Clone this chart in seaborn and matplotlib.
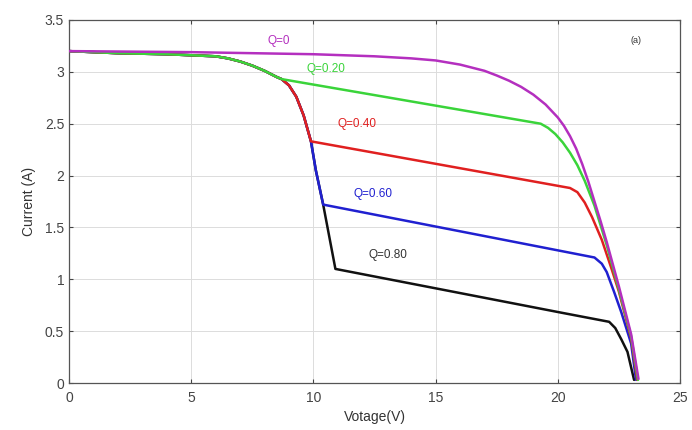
import numpy as np
import pandas as pd
import matplotlib
matplotlib.use("Agg")
import matplotlib.pyplot as plt
import seaborn as sns

# ---- data ----
v_q0 = [0, 5, 10, 12.5, 14, 15, 15.5, 16, 16.5, 17, 17.5, 18, 18.5, 19, 19.5, 20, 20.25, 20.5, 20.75, 21, 21.25, 21.5, 21.75, 22, 22.5, 23, 23.3]
i_q0 = [3.2, 3.19, 3.17, 3.15, 3.13, 3.11, 3.09, 3.07, 3.04, 3.01, 2.965, 2.915, 2.855, 2.78, 2.685, 2.56, 2.48, 2.38, 2.26, 2.11, 1.94, 1.75, 1.56, 1.36, 0.93, 0.47, 0.04]

v_q20 = [0, 2, 4, 5, 6, 6.5, 7, 7.5, 8, 8.5, 8.7, 19.3, 19.6, 19.9, 20.2, 20.5, 20.8, 21.1, 21.5, 22, 22.5, 23, 23.28]
i_q20 = [3.2, 3.18, 3.17, 3.16, 3.15, 3.13, 3.1, 3.06, 3.01, 2.95, 2.93, 2.5, 2.46, 2.4, 2.32, 2.22, 2.1, 1.95, 1.71, 1.33, 0.9, 0.45, 0.03]

v_q40 = [0, 2, 4, 5, 6, 6.5, 7, 7.5, 8, 8.5, 8.7, 9.0, 9.3, 9.6, 9.9, 20.5, 20.8, 21.1, 21.4, 21.8, 22.2, 22.5, 23.0, 23.25]
i_q40 = [3.2, 3.18, 3.17, 3.16, 3.15, 3.13, 3.1, 3.06, 3.01, 2.95, 2.93, 2.87, 2.76, 2.58, 2.33, 1.88, 1.84, 1.74, 1.6, 1.38, 1.1, 0.88, 0.43, 0.03]

v_q60 = [0, 2, 4, 5, 6, 6.5, 7, 7.5, 8, 8.5, 8.7, 9.0, 9.3, 9.6, 9.9, 10.1, 10.4, 21.5, 21.8, 22.0, 22.3, 22.6, 23.0, 23.2]
i_q60 = [3.2, 3.18, 3.17, 3.16, 3.15, 3.13, 3.1, 3.06, 3.01, 2.95, 2.93, 2.87, 2.76, 2.58, 2.33, 2.05, 1.72, 1.21, 1.15, 1.07, 0.88, 0.68, 0.38, 0.03]

v_q80 = [0, 2, 4, 5, 6, 6.5, 7, 7.5, 8, 8.5, 8.7, 9.0, 9.3, 9.6, 9.9, 10.1, 10.4, 10.9, 20.1, 22.1, 22.35, 22.6, 22.85, 23.12]
i_q80 = [3.2, 3.18, 3.17, 3.16, 3.15, 3.13, 3.1, 3.06, 3.01, 2.95, 2.93, 2.87, 2.76, 2.58, 2.33, 2.05, 1.72, 1.1, 0.68, 0.59, 0.53, 0.42, 0.3, 0.03]

labels = ["Q=0", "Q=0.20", "Q=0.40", "Q=0.60", "Q=0.80"]
colors = ["#b42fbf", "#3ad43a", "#e02020", "#2020d0", "#111111"]
text_colors = ["#b42fbf", "#3ad43a", "#e02020", "#2020d0", "#333333"]
label_x = [8.6, 10.5, 11.8, 12.45, 13.05]
label_y = [3.3, 3.03, 2.5, 1.82, 1.23]

x_ticks = [0, 5, 10, 15, 20, 25]
y_ticks = [0, 0.5, 1, 1.5, 2, 2.5, 3, 3.5]
y_tick_labels = ["0", "0.5", "1", "1.5", "2", "2.5", "3", "3.5"]

series = [(v_q0, i_q0), (v_q20, i_q20), (v_q40, i_q40), (v_q60, i_q60), (v_q80, i_q80)]
frames = []
for lab, (v, i) in zip(labels, series):
    frames.append(pd.DataFrame({"V": v, "I": i, "Q": lab}))
df = pd.concat(frames, ignore_index=True)

sns.set_theme(style="white")
plt.rcParams["font.family"] = ["Liberation Sans", "DejaVu Sans"]

fig = plt.figure(figsize=(6.92, 4.30), dpi=100)
ax = fig.add_axes([0.0997, 0.1093, 0.883, 0.8442])

# draw from back to front: black, blue, red, green, magenta
draw_order = [4, 3, 2, 1, 0]
for k in draw_order:
    sub = df[df["Q"] == labels[k]]
    sns.lineplot(data=sub, x="V", y="I", ax=ax, color=colors[k], lw=1.8,
                 sort=False, estimator=None, legend=False, zorder=3 + (4 - k))
for line in ax.lines:
    line.set_solid_joinstyle("round")

for k in range(5):
    ax.text(label_x[k], label_y[k], labels[k], color=text_colors[k], fontsize=8.5,
            ha="center", va="center", zorder=10)
ax.text(23.2, 3.3, "(a)", color="#333333", fontsize=6.5, ha="center", va="center")

ax.set_xlim(0, 25)
ax.set_ylim(0, 3.5)
ax.set_xticks(x_ticks)
ax.set_yticks(y_ticks)
ax.set_yticklabels(y_tick_labels)
ax.set_xlabel("Votage(V)", fontsize=10, color="#333333", labelpad=3)
ax.set_ylabel("Current (A)", fontsize=10, color="#333333", labelpad=6)
ax.grid(True, color="#dcdcdc", lw=0.7)
ax.set_axisbelow(True)
ax.tick_params(direction="in", length=3, width=0.8, colors="#444444", labelsize=10,
               labelcolor="#444444", top=True, right=True, bottom=True, left=True)
ax.tick_params(axis="x", pad=6)
for s in ax.spines.values():
    s.set_color("#555555")
    s.set_linewidth(0.9)
    s.set_visible(True)

fig.savefig("out.png", dpi=100)
